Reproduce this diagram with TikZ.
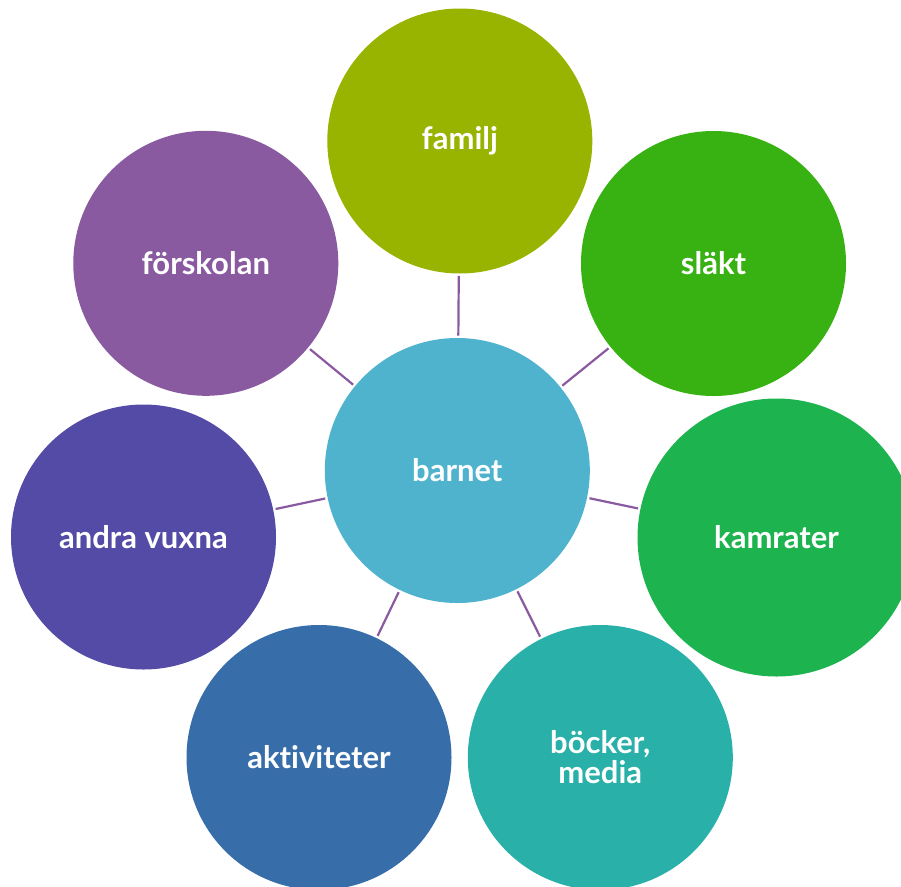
\documentclass[tikz,border=0pt]{standalone}
\usepackage{fontspec}
\setmainfont{Lato}[Ligatures={NoCommon}]
\definecolor{cbarn}{HTML}{4FB3CE}
\definecolor{cfam}{HTML}{98B400}
\definecolor{cslakt}{HTML}{37B212}
\definecolor{ckam}{HTML}{1DB34F}
\definecolor{cbock}{HTML}{29B0A8}
\definecolor{cakt}{HTML}{376EAA}
\definecolor{cvux}{HTML}{534BA6}
\definecolor{cfors}{HTML}{8A5AA0}
\definecolor{clink}{HTML}{8A5AA0}
\begin{document}
\begin{tikzpicture}[x=1pt,y=-1pt,
  bubble/.style={circle, inner sep=0pt, outer sep=0pt, minimum size=265pt,
    text=white, font=\bfseries\fontsize{31}{30}\selectfont, align=center},
  link/.style={draw=clink, line width=2.2pt, shorten <=2.5pt, shorten >=2.5pt}]
\clip (0,0) rectangle (901,886);
\node[bubble, fill=cbarn] (barn) at (457.3,470.5) {barnet};
\node[bubble, fill=cfam] (fam) at (459.8,141) {familj};
\node[bubble, fill=cslakt] (slakt) at (713.5,263.5) {släkt};
\node[bubble, fill=ckam, minimum size=278pt] (kam) at (776.5,537.5) {kamrater};
\node[bubble, fill=cbock] (bock) at (600.3,757.5) {böcker,\\media};
\node[bubble, fill=cakt] (akt) at (319,757.5) {aktiviteter};
\node[bubble, fill=cvux] (vux) at (143.5,537) {andra vuxna};
\node[bubble, fill=cfors] (fors) at (205.8,263.3) {förskolan};
\draw[link] (fam) -- (barn);
\draw[link] (slakt) -- (barn);
\draw[link] (kam) -- (barn);
\draw[link] (bock) -- (barn);
\draw[link] (akt) -- (barn);
\draw[link] (vux) -- (barn);
\draw[link] (fors) -- (barn);
\end{tikzpicture}
\end{document}
